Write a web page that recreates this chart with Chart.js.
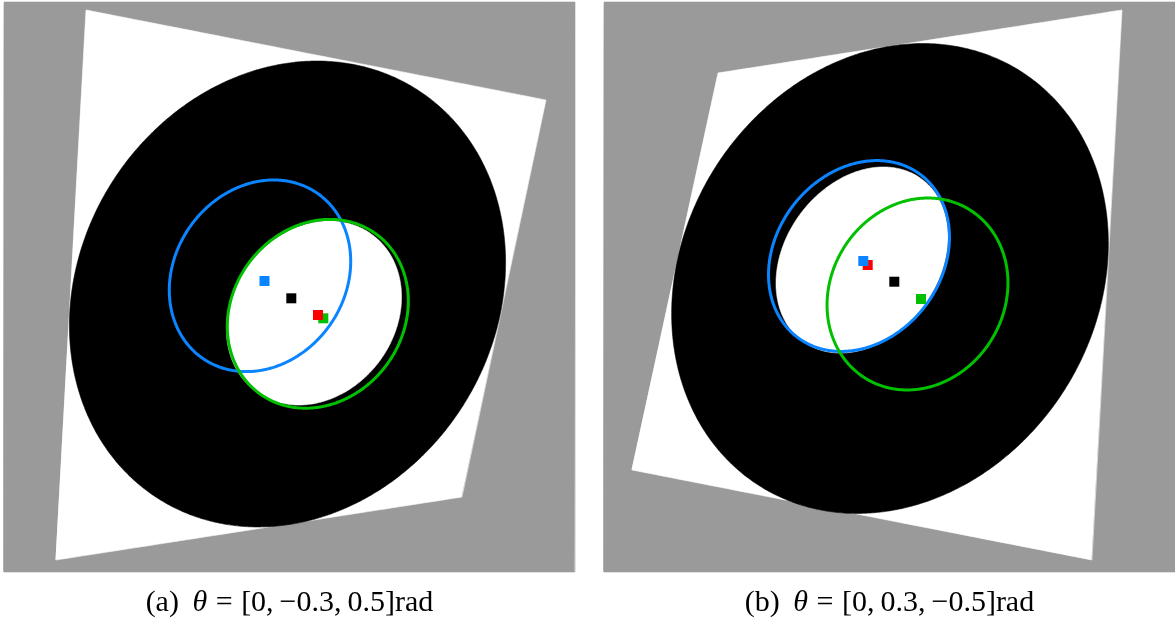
<!DOCTYPE html>
<html><head><meta charset="utf-8">
<script src="https://cdn.jsdelivr.net/npm/chart.js@4/dist/chart.umd.min.js"></script>
<style>
html,body{margin:0;padding:0;background:#fff;}
#wrap{position:relative;width:1175px;height:623px;overflow:hidden;background:#fff;}
#c{position:absolute;left:0;top:0;}
.cap{position:absolute;top:585px;height:34px;line-height:32px;font-family:'Liberation Serif','DejaVu Serif',serif;font-size:30px;color:#000;white-space:nowrap;text-align:center;}
.cap i{font-style:italic;}
</style></head><body>
<div id="wrap"><canvas id="c" width="1175" height="623"></canvas>
<div class="cap" id="cap0"></div><div class="cap" id="cap1"></div></div>
<script>
// ---- data (pixel coordinates of the figure) ----
const captionLabels = ['(a)', '(b)'];
const thetaA = ['0', '\u22120.3', '0.5'];
const thetaB = ['0', '0.3', '\u22120.5'];
const panelRectA = [[4,2],[575,2],[575,572],[4,572]];
const panelRectB = [[604,2],[1175,2],[1175,572],[604,572]];
const quadA = [[86,10],[546,100],[462,497],[56,560]];
const quadB = [[718,73],[1122,10],[1092,560],[632,470]];
// ellipses: [cx, cy, semi-major, semi-minor, tilt in degrees]
const outerA = [287.5, 294, 242, 208, -58];
const holeA  = [314, 313, 97.6, 81.3, -53];
const blueA  = [260, 275.8, 100.5, 85.5, -55];
const greenA = [317.8, 313.8, 98.8, 85.7, -53.7];
const outerB = [890, 278.5, 245, 207, -58];
const holeB  = [862, 260, 100.6, 77, -53.7];
const blueB  = [859, 256, 102, 83, -52.6];
const greenB = [917.5, 294, 99.1, 87, -58.6];
// centre markers
const blackMarks = [[291.3, 298.3], [894.3, 281.7]];
const greenMarks = [[323.3, 318.3], [921, 299]];
const redMarks   = [[318, 315], [867.7, 265]];
const blueMarks  = [[264.5, 281], [863.3, 261]];

// ---- helpers ----
const toXY = arr => arr.map(p => ({x: p[0], y: p[1]}));
const closed = arr => toXY(arr.concat([arr[0]]));
function ellipsePts(p, n = 360) {
  const [cx, cy, a, b, deg] = p;
  const t = deg * Math.PI / 180, c = Math.cos(t), s = Math.sin(t);
  const out = [];
  for (let i = 0; i <= n; i++) {
    const u = 2 * Math.PI * i / n, ex = a * Math.cos(u), ey = b * Math.sin(u);
    out.push({x: cx + ex * c - ey * s, y: cy + ex * s + ey * c});
  }
  return out;
}
const shape = (pts, col) => ({data: pts, backgroundColor: col, borderColor: col, borderWidth: 0.6, fill: 'shape', pointRadius: 0, tension: 0.0001});
const ring = (pts, col) => ({data: pts, borderColor: col, borderWidth: 3, fill: false, pointRadius: 0, tension: 0.0001});
const marks = (pts, col) => ({data: toXY(pts), showLine: false, backgroundColor: col, borderColor: col, pointStyle: 'rect', pointRadius: 7.07, borderWidth: 0, pointBorderWidth: 0});

const GRAY = '#9a9a9a', BLUE = '#0a84ff', GREEN = '#00c000', RED = '#ff0000';
const layers = [
  shape(closed(panelRectA), GRAY), shape(closed(panelRectB), GRAY),
  shape(closed(quadA), '#ffffff'), shape(closed(quadB), '#ffffff'),
  shape(ellipsePts(outerA), '#000000'), shape(ellipsePts(outerB), '#000000'),
  shape(ellipsePts(holeA), '#ffffff'), shape(ellipsePts(holeB), '#ffffff'),
  ring(ellipsePts(blueA), BLUE), ring(ellipsePts(greenA), GREEN),
  ring(ellipsePts(blueB), BLUE), ring(ellipsePts(greenB), GREEN),
  marks(blackMarks, '#000000'), marks(greenMarks, GREEN),
  marks(redMarks, RED), marks(blueMarks, BLUE)
];
layers.forEach((d, i) => { d.order = layers.length - i; });

new Chart(document.getElementById('c'), {
  type: 'line',
  data: {datasets: layers},
  options: {
    responsive: false, animation: false, devicePixelRatio: 1, events: [],
    layout: {padding: 0, autoPadding: false},
    plugins: {legend: {display: false}, tooltip: {enabled: false}, title: {display: false}},
    scales: {
      x: {type: 'linear', min: 0, max: 1175, display: false},
      y: {type: 'linear', min: 0, max: 623, reverse: true, display: false}
    }
  }
});

// captions
const capCentres = [289.5, 889.5];
[thetaA, thetaB].forEach((th, i) => {
  const el = document.getElementById('cap' + i);
  el.innerHTML = captionLabels[i] + '&nbsp;&#8201;<i>\u03b8</i>&#8201;&#8202;=&#8201;&#8202;[' + th.join(',&#8201;') + ']rad';
  el.style.left = (capCentres[i] - 200) + 'px';
  el.style.width = '400px';
});
</script>
</body></html>
